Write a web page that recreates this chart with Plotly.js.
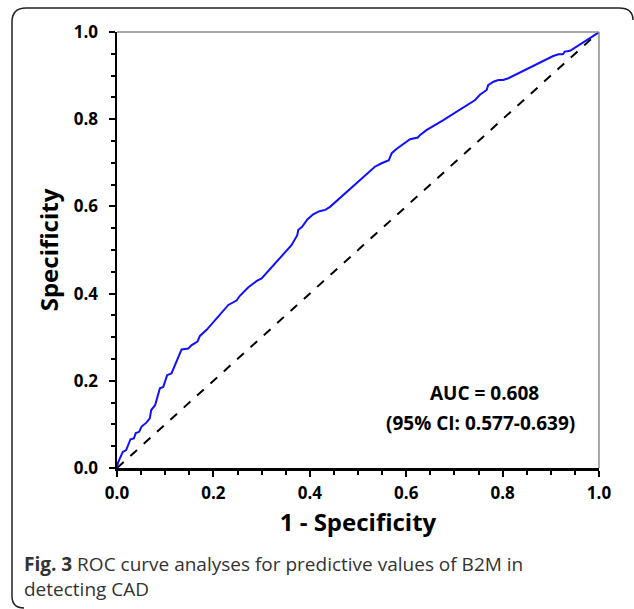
<!DOCTYPE html>
<html>
<head>
<meta charset="utf-8">
<script src="https://cdn.plot.ly/plotly-3.0.1.min.js"></script>
<style>
  html, body { margin: 0; padding: 0; background: #fff; }
  #chart { width: 634px; height: 609px; }
</style>
</head>
<body>
<div id="chart"></div>
<script>
// ROC curve data (1 - Specificity vs Specificity as labelled in the figure)
const fpr = [0, 0.002, 0.006, 0.012, 0.019, 0.022, 0.028, 0.035, 0.039, 0.046, 0.051, 0.061, 0.068, 0.071, 0.079, 0.089, 0.096, 0.104, 0.113, 0.134, 0.148, 0.155, 0.167, 0.172, 0.186, 0.231, 0.248, 0.255, 0.272, 0.290, 0.300, 0.362, 0.374, 0.376, 0.384, 0.395, 0.407, 0.420, 0.432, 0.442, 0.483, 0.535, 0.549, 0.564, 0.570, 0.579, 0.608, 0.624, 0.629, 0.642, 0.677, 0.743, 0.753, 0.767, 0.770, 0.781, 0.791, 0.801, 0.812, 0.905, 0.916, 0.925, 0.929, 0.940, 0.998, 1.0];
const tpr = [0, 0.012, 0.022, 0.037, 0.041, 0.049, 0.066, 0.068, 0.080, 0.083, 0.095, 0.104, 0.114, 0.133, 0.144, 0.183, 0.186, 0.213, 0.217, 0.272, 0.274, 0.282, 0.290, 0.303, 0.317, 0.374, 0.384, 0.395, 0.414, 0.429, 0.435, 0.511, 0.534, 0.546, 0.553, 0.570, 0.582, 0.589, 0.592, 0.599, 0.640, 0.691, 0.699, 0.706, 0.722, 0.731, 0.754, 0.758, 0.764, 0.775, 0.798, 0.844, 0.856, 0.867, 0.878, 0.886, 0.890, 0.890, 0.894, 0.945, 0.949, 0.949, 0.955, 0.957, 0.998, 1.0];
const refX = [0, 1];
const refY = [0, 1];
const tickVals = [0, 0.2, 0.4, 0.6, 0.8, 1.0];
const tickLabels = ["0.0", "0.2", "0.4", "0.6", "0.8", "1.0"];
const xTitle = "1 - Specificity";
const yTitle = "Specificity";
const aucText = "AUC = 0.608";
const ciText = "(95% CI: 0.577-0.639)";
const captionHtml = "<b>Fig. 3</b> ROC curve analyses for predictive values of B2M in<br>detecting CAD";

// layout geometry (pixels)
const W = 634, H = 609;
const L = 117, R = 599, T = 32, B = 468;
const px = v => (v - L) / (R - L);
const py = v => (B - v) / (B - T);

const fontFam = "'Open Sans', 'Noto Sans', sans-serif";

const traces = [
  {
    x: refX, y: refY, type: 'scatter', mode: 'lines',
    line: { color: '#000000', width: 2, dash: 'dash' },
    hoverinfo: 'skip', showlegend: false
  },
  {
    x: fpr, y: tpr, type: 'scatter', mode: 'lines',
    line: { color: '#1010ff', width: 2 },
    showlegend: false
  }
];

const axisCommon = {
  range: [0, 1],
  tickmode: 'array',
  tickvals: tickVals,
  ticktext: tickLabels,
  ticks: 'outside',
  ticklen: 6,
  tickwidth: 2,
  tickcolor: '#000',
  showline: true,
  linecolor: '#000',
  linewidth: 2.5,
  showgrid: false,
  zeroline: false,
  fixedrange: true,
  tickfont: { family: fontFam, size: 17, color: '#000', weight: 'bold' },
  minor: { dtick: 0.05, tick0: 0, ticks: 'outside', ticklen: 4, tickwidth: 2, tickcolor: '#000', showgrid: false }
};

const framePath = 'M ' + px(24) + ' ' + py(608) +
  ' Q ' + px(12) + ' ' + py(608) + ' ' + px(12) + ' ' + py(596) +
  ' L ' + px(12) + ' ' + py(22) +
  ' Q ' + px(12) + ' ' + py(8) + ' ' + px(26) + ' ' + py(8) +
  ' L ' + px(619) + ' ' + py(8) +
  ' Q ' + px(633) + ' ' + py(8) + ' ' + px(633) + ' ' + py(20);

const layout = {
  width: W, height: H,
  margin: { l: L, r: W - R, t: T, b: H - B, pad: 0 },
  paper_bgcolor: '#ffffff',
  plot_bgcolor: '#ffffff',
  showlegend: false,
  xaxis: Object.assign({}, axisCommon, {
    ticklabelstandoff: 2,
    title: { text: xTitle, font: { family: fontFam, size: 24, color: '#000', weight: 'bold' }, standoff: 12 },
    automargin: false
  }),
  yaxis: Object.assign({}, axisCommon, {
    ticklabelstandoff: 7,
    title: { text: yTitle, font: { family: fontFam, size: 24, color: '#000', weight: 'bold' }, standoff: 9 },
    automargin: false
  }),
  shapes: [
    { type: 'line', xref: 'paper', yref: 'paper', x0: 0, x1: 1, y0: 1, y1: 1, line: { color: '#8c8c8c', width: 1.5 } },
    { type: 'line', xref: 'paper', yref: 'paper', x0: 1, x1: 1, y0: 0, y1: 1, line: { color: '#8c8c8c', width: 1.5 } },
    { type: 'path', xref: 'paper', yref: 'paper', path: framePath, line: { color: '#222', width: 1.5 } }
  ],
  annotations: [
    { xref: 'x', yref: 'y', x: 0.763, y: 0.172, text: aucText, showarrow: false,
      font: { family: fontFam, size: 19, color: '#000', weight: 'bold' }, xanchor: 'center', yanchor: 'middle' },
    { xref: 'x', yref: 'y', x: 0.755, y: 0.104, text: ciText, showarrow: false,
      font: { family: fontFam, size: 19, color: '#000', weight: 'bold' }, xanchor: 'center', yanchor: 'middle' },
    { xref: 'paper', yref: 'paper', x: px(22), y: py(549), text: captionHtml, showarrow: false,
      align: 'left', xanchor: 'left', yanchor: 'top',
      font: { family: fontFam, size: 19, color: '#333' } }
  ]
};

Plotly.newPlot('chart', traces, layout, { displayModeBar: false, staticPlot: true });
</script>
</body>
</html>
